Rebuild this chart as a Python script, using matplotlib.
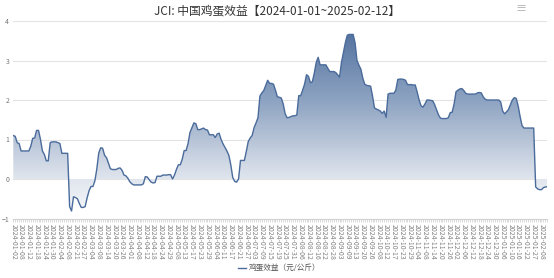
#!/usr/bin/env python3
import matplotlib
matplotlib.use("Agg")
import matplotlib.pyplot as plt
import numpy as np
from matplotlib.colors import LinearSegmentedColormap

plt.rcParams['font.family'] = ['Noto Sans CJK SC', 'DejaVu Sans']

TITLE = "JCI: 中国鸡蛋效益【2024-01-01~2025-02-12】"
LEGEND = "鸡蛋效益（元/公斤）"

# one value per trading day, 2024-01-02 .. 2025-02-12
profit = [
    1.10, 1.08, 0.92, 0.90, 0.71, 0.71, 0.71, 0.71, 0.71, 0.83,
    1.03, 1.04, 1.23, 1.23, 1.00, 0.71, 0.62, 0.46, 0.46, 0.92,
    0.94, 0.94, 0.94, 0.92, 0.90, 0.65, 0.65, 0.65, 0.65, -0.70,
    -0.81, -0.45, -0.47, -0.50, -0.62, -0.72, -0.72, -0.70, -0.48, -0.30,
    -0.19, -0.19, -0.05, 0.25, 0.66, 0.79, 0.78, 0.60, 0.54, 0.40,
    0.26, 0.24, 0.24, 0.24, 0.27, 0.28, 0.22, 0.10, 0.08, 0.02,
    -0.07, -0.12, -0.15, -0.15, -0.15, -0.15, -0.15, -0.12, 0.06, 0.05,
    -0.02, -0.08, -0.10, -0.09, 0.07, 0.07, 0.07, 0.10, 0.10, 0.10,
    0.11, 0.11, 0.00, 0.10, 0.24, 0.36, 0.36, 0.50, 0.72, 0.72,
    0.90, 1.18, 1.30, 1.42, 1.40, 1.25, 1.25, 1.27, 1.29, 1.25,
    1.24, 1.12, 1.12, 1.12, 1.05, 1.14, 1.16, 1.00, 0.89, 0.80,
    0.71, 0.60, 0.36, 0.04, -0.06, -0.08, 0.00, 0.47, 0.47, 0.47,
    0.70, 0.95, 1.04, 1.10, 1.30, 1.42, 1.55, 2.10, 2.18, 2.24,
    2.37, 2.50, 2.42, 2.42, 2.40, 2.25, 2.08, 2.07, 2.05, 1.90,
    1.65, 1.55, 1.56, 1.58, 1.60, 1.60, 1.62, 2.11, 2.11, 2.25,
    2.40, 2.64, 2.60, 2.44, 2.46, 2.68, 2.95, 3.08, 2.89, 2.89,
    2.89, 2.89, 2.80, 2.72, 2.72, 2.72, 2.70, 2.64, 2.58, 2.95,
    3.20, 3.45, 3.64, 3.66, 3.66, 3.66, 3.45, 3.00, 2.88, 2.78,
    2.55, 2.40, 2.37, 2.36, 2.35, 2.10, 1.80, 1.77, 1.75, 1.72,
    1.66, 1.72, 1.56, 2.15, 2.17, 2.17, 2.17, 2.25, 2.52, 2.53,
    2.53, 2.52, 2.50, 2.39, 2.39, 2.39, 2.38, 2.38, 2.20, 2.00,
    1.85, 1.82, 1.90, 2.00, 2.00, 1.99, 1.98, 1.88, 1.75, 1.62,
    1.54, 1.53, 1.53, 1.53, 1.55, 1.68, 1.69, 1.90, 2.21, 2.25,
    2.28, 2.29, 2.24, 2.17, 2.15, 2.15, 2.15, 2.15, 2.15, 2.18,
    2.19, 2.18, 2.08, 2.02, 2.00, 2.00, 2.00, 2.00, 2.00, 2.00,
    2.00, 1.95, 1.72, 1.65, 1.70, 1.76, 1.88, 2.00, 2.06, 2.04,
    1.85, 1.58, 1.35, 1.29, 1.29, 1.29, 1.29, 1.29, 1.29, -0.20,
    -0.25, -0.27, -0.27, -0.22, -0.20, -0.20,
]

# shown every 4th trading day
tick_labels = [
    "2024-01-02", "2024-01-08", "2024-01-12", "2024-01-18", "2024-01-24",
    "2024-01-30", "2024-02-04", "2024-02-08", "2024-02-21", "2024-02-27",
    "2024-03-04", "2024-03-08", "2024-03-14", "2024-03-20", "2024-03-26",
    "2024-04-01", "2024-04-08", "2024-04-12", "2024-04-18", "2024-04-24",
    "2024-04-29", "2024-05-08", "2024-05-13", "2024-05-17", "2024-05-23",
    "2024-05-29", "2024-06-04", "2024-06-11", "2024-06-17", "2024-06-21",
    "2024-06-27", "2024-07-03", "2024-07-09", "2024-07-15", "2024-07-19",
    "2024-07-25", "2024-07-31", "2024-08-06", "2024-08-12", "2024-08-16",
    "2024-08-22", "2024-08-28", "2024-09-03", "2024-09-09", "2024-09-13",
    "2024-09-20", "2024-09-26", "2024-10-08", "2024-10-12", "2024-10-17",
    "2024-10-23", "2024-10-29", "2024-11-04", "2024-11-08", "2024-11-14",
    "2024-11-20", "2024-11-26", "2024-12-02", "2024-12-06", "2024-12-12",
    "2024-12-18", "2024-12-24", "2024-12-30", "2025-01-06", "2025-01-10",
    "2025-01-16", "2025-01-22", "2025-01-27", "2025-02-08",
]

LINE = "#4a6b9b"


def main():
    y = np.array(profit)
    x = np.arange(len(y))

    fig = plt.figure(figsize=(5.54, 2.78), dpi=100)
    ax = fig.add_axes([13.3 / 554, 1 - 218.5 / 278, 534 / 554, 197.5 / 278])

    ax.set_xlim(0, len(y) - 1)
    ax.set_ylim(-1, 4)

    for v in range(0, 5):
        ax.axhline(v, color="#e3e3e3", lw=0.8, zorder=0)

    # gradient area down to zero
    cmap = LinearSegmentedColormap.from_list(
        "egg", [(0.0, "#f5f7fa"), (0.18, "#e2e7ef"), (0.40, "#b8c5d8"),
                (0.62, "#8ea4c2"), (0.85, "#6c87ae"), (1.0, "#55739f")])
    poly = ax.fill_between(x, y, 0, color="none", lw=0)
    grad = np.linspace(0, 1, 256).reshape(-1, 1)
    img = ax.imshow(grad, cmap=cmap, aspect="auto", origin="lower",
                    extent=[0, len(y) - 1, -0.85, 3.7], zorder=1)
    img.set_clip_path(poly.get_paths()[0], transform=ax.transData)

    ax.plot(x, y, color=LINE, lw=1.0, zorder=3)

    for s in ["top", "right", "left"]:
        ax.spines[s].set_visible(False)
    ax.spines["bottom"].set_color("#d0d0d0")
    ax.spines["bottom"].set_linewidth(0.8)

    ax.set_yticks(range(-1, 5))
    ax.tick_params(axis="y", length=0, pad=3, labelsize=5, labelcolor="#777777")

    pos = list(range(0, 4 * len(tick_labels), 4))
    ax.set_xticks(pos)
    ax.set_xticklabels(tick_labels, rotation=-90, fontsize=5, color="#808080")
    ax.set_xticks(x, minor=True)
    ax.tick_params(axis="x", which="both", length=2, width=0.5,
                   color="#cccccc", pad=2)

    fig.text(0.5, 1 - 11 / 278, TITLE, ha="center", va="center",
             fontsize=8.5, color="#333333")
    fig.text(0.94, 1 - 9 / 278, "≡", ha="center", va="center",
             fontsize=8, color="#aaaaaa")

    # legend
    fig.add_artist(plt.Line2D([238 / 554, 246 / 554], [1 - 268 / 278] * 2,
                              color=LINE, lw=1.0))
    fig.text(249 / 554, 1 - 268 / 278, LEGEND, ha="left", va="center",
             fontsize=5.5, color="#555555")

    fig.savefig("out.png", dpi=100)
    return 0


if __name__ == "__main__":
    main()
